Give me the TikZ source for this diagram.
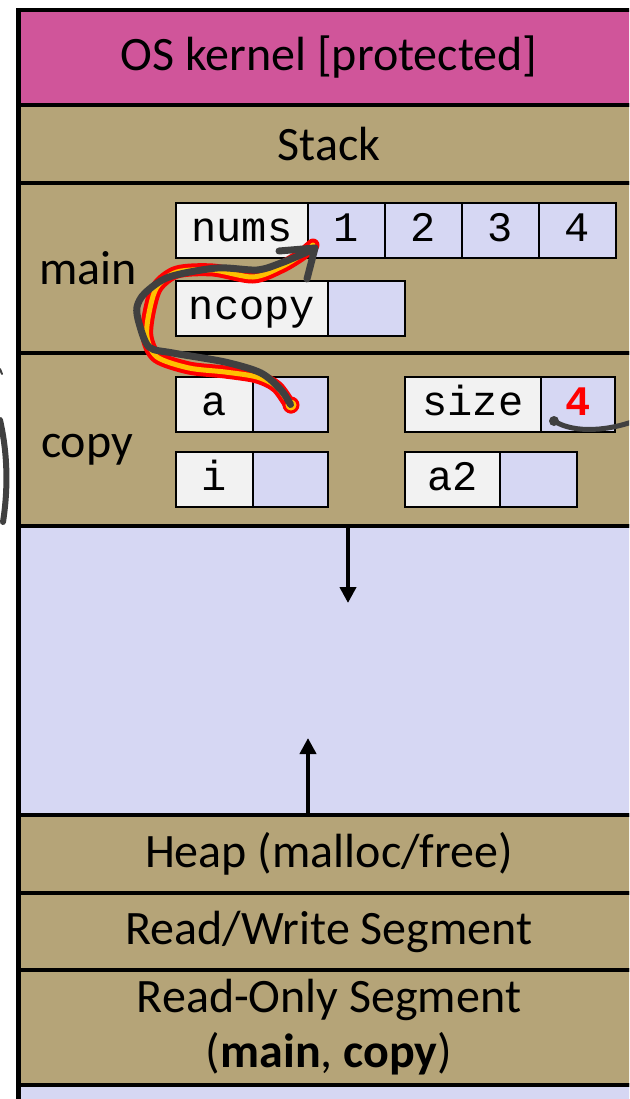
\documentclass[tikz,border=0pt]{standalone}
\usepackage{fontspec}
\setmainfont{Carlito}
\setmonofont{Liberation Mono}
\usepackage{tikz}
\usetikzlibrary{arrows.meta}
\definecolor{kernelpink}{HTML}{D0559A}
\definecolor{segtan}{HTML}{B5A478}
\definecolor{freelav}{HTML}{D6D7F3}
\definecolor{cellgray}{HTML}{F2F2F2}
\definecolor{inkgray}{HTML}{404040}
\definecolor{hlyellow}{HTML}{FFC000}

\begin{document}
\begin{tikzpicture}[x=0.5pt, y=-0.5pt,
    seg/.style={draw, line width=2pt, fill=segtan, minimum width=311pt, inner sep=0pt, outer sep=0pt, align=center, font=\fontsize{24}{27.5}\selectfont},
    framelbl/.style={anchor=base, font=\fontsize{24}{27.5}\selectfont},
    lbl/.style={draw, line width=1pt, fill=cellgray, minimum height=27.5pt, inner sep=0pt, outer sep=0pt, text height=14pt, text depth=3pt, font=\fontsize{21}{24}\selectfont\ttfamily},
    val/.style={lbl, fill=freelav, minimum width=38.5pt, anchor=west},
    growarrow/.style={line width=2pt, -{Triangle[length=8pt, width=8pt]}},
    ink/.style={color=inkgray, line cap=round, line join=round}]
    \useasboundingbox (0,0) rectangle (629,1099);
    \clip (0,0) rectangle (629,1099);

    \node[seg, fill=kernelpink, minimum height=47.5pt] (kernel) at (329,57.5) {OS kernel [protected]};
    \node[seg, minimum height=39pt] (stack) at (329,144) {Stack};
    \node[seg, minimum height=85pt] (mainf) at (329,268) {};
    \node[seg, minimum height=86.5pt] (copyf) at (329,439.5) {};
    \node[seg, fill=freelav, minimum height=144.5pt] (free) at (329,670.5) {};
    \node[seg, minimum height=39pt] (heap) at (329,854) {Heap (malloc/free)};
    \node[seg, minimum height=38.5pt] (rw) at (329,931.5) {Read/Write Segment};
    \node[seg, minimum height=57.5pt] (ro) at (329,1027.5) {Read-Only Segment\\(\textbf{main}, \textbf{copy})};
    \node[seg, fill=freelav, minimum height=22.5pt] (below) at (329,1107.5) {};
    \draw[line width=2.5pt] (kernel.north west) -- (below.south west);

    \node[framelbl] (mainlbl) at (88,284) {main};
    \node[framelbl] (copylbl) at (87,457) {copy};

    \node[lbl, minimum width=66pt] (nums) at (242,230.5) {nums};
    \node[val] (n1) at (nums.east) {1};
    \node[val] (n2) at (n1.east) {2};
    \node[val] (n3) at (n2.east) {3};
    \node[val] (n4) at (n3.east) {4};
    \node[lbl, minimum width=76pt] (ncopy) at (252,308.5) {ncopy};
    \node[val] (ncopyv) at (ncopy.east) {};
    \node[lbl, minimum width=38.5pt] (a) at (214.5,404.5) {a};
    \node[val, minimum width=37.5pt] (av) at (a.east) {};
    \node[lbl, minimum width=68pt] (size) at (473,404.5) {size};
    \node[val, minimum width=37pt, text=red, font=\fontsize{21}{24}\selectfont\ttfamily\bfseries] (sizev) at (size.east) {4};
    \node[lbl, minimum width=38.5pt] (i) at (214.5,479.5) {i};
    \node[val, minimum width=37.5pt] (iv) at (i.east) {};
    \node[lbl, minimum width=47.5pt] (a2) at (452.5,479.5) {a2};
    \node[val] (a2v) at (a2.east) {};

    \coordinate (downtip) at (348,603);
    \coordinate (uptip) at (308,738);
    \draw[growarrow] (free.north -| downtip) -- (downtip);
    \draw[growarrow] (free.south -| uptip) -- (uptip);

    \coordinate (ptrtip) at ([shift={(7,-10)}]n1.south west);
    \foreach \c/\w in {red/6.5pt, hlyellow/2.5pt}
      \draw[color=\c, line width=\w, line cap=round, line join=round] plot[smooth] coordinates {(291,407) (277,387) (257,377) (225,372) (189,368) (157,357) (147,337) (149,313) (157,287) (177,272) (213,270) (253,277) (281,267) (301,255) (313,245)};
    \fill[hlyellow, draw=red, line width=1.5pt] (291,405) circle (3.5pt);
    \draw[ink, line width=3.5pt] plot[smooth] coordinates {(av.center) (281,390) (261,373) (225,362) (173,353) (149,347) (139,323) (137,307) (145,293) (169,277) (217,268) (257,270) (281,263) (305,253) (ptrtip)};
    \draw[ink, line width=3.5pt] (279,251) -- (ptrtip) -- (307,279);

    \coordinate (sizemark) at (554,421);
    \fill[inkgray] (sizemark) circle (2.5pt);
    \draw[ink, line width=2.5pt] (sizemark) .. controls (575,434) and (610,431) .. (640,419);
    \draw[ink, line width=3pt] (0,420) .. controls (8,455) and (8,490) .. (3,522);
    \draw[ink, line width=1pt] (0,369) -- (2,374);
  \end{tikzpicture}
\end{document}
